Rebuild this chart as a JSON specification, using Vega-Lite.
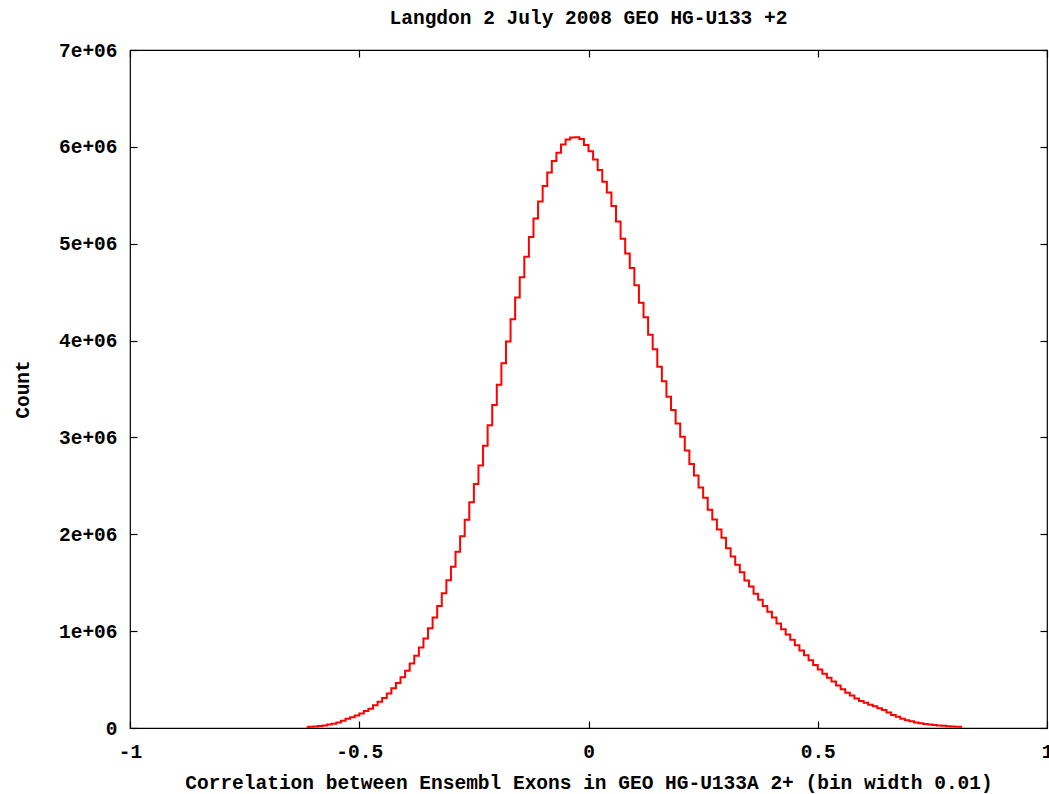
{
  "$schema": "https://vega.github.io/schema/vega-lite/v6.json",
  "width": 917,
  "height": 678,
  "autosize": {"type": "none"},
  "padding": {"left": 130, "top": 50, "right": 2, "bottom": 66},
  "background": "#ffffff",
  "title": {
    "text": "Langdon 2 July 2008 GEO HG-U133 +2",
    "font": "Liberation Mono",
    "fontSize": 19.5,
    "fontWeight": "bold",
    "color": "#000000",
    "anchor": "middle",
    "frame": "group",
    "baseline": "alphabetic",
    "offset": -3
  },
  "config": {
    "view": {"stroke": "#000000", "strokeWidth": 1.2},
    "axis": {
      "labelFont": "Liberation Mono",
      "labelFontSize": 19.5,
      "labelFontWeight": "bold",
      "labelColor": "#000000",
      "labelFlush": false,
      "titleFont": "Liberation Mono",
      "titleFontSize": 19.5,
      "titleFontWeight": "bold",
      "titleColor": "#000000",
      "domain": false,
      "grid": false,
      "tickColor": "#000000",
      "tickWidth": 1.2,
      "tickSize": -7
    }
  },
  "data": {
    "values": [
      {"x": -0.615, "count": 8000},
      {"x": -0.605, "count": 12000},
      {"x": -0.595, "count": 16000},
      {"x": -0.585, "count": 21000},
      {"x": -0.575, "count": 27000},
      {"x": -0.565, "count": 35000},
      {"x": -0.555, "count": 45000},
      {"x": -0.545, "count": 58000},
      {"x": -0.535, "count": 75000},
      {"x": -0.525, "count": 95000},
      {"x": -0.515, "count": 110000},
      {"x": -0.505, "count": 130000},
      {"x": -0.495, "count": 150000},
      {"x": -0.485, "count": 175000},
      {"x": -0.475, "count": 200000},
      {"x": -0.465, "count": 235000},
      {"x": -0.455, "count": 270000},
      {"x": -0.445, "count": 310000},
      {"x": -0.435, "count": 355000},
      {"x": -0.425, "count": 410000},
      {"x": -0.415, "count": 465000},
      {"x": -0.405, "count": 525000},
      {"x": -0.395, "count": 590000},
      {"x": -0.385, "count": 665000},
      {"x": -0.375, "count": 745000},
      {"x": -0.365, "count": 830000},
      {"x": -0.355, "count": 925000},
      {"x": -0.345, "count": 1030000},
      {"x": -0.335, "count": 1140000},
      {"x": -0.325, "count": 1260000},
      {"x": -0.315, "count": 1390000},
      {"x": -0.305, "count": 1525000},
      {"x": -0.295, "count": 1665000},
      {"x": -0.285, "count": 1820000},
      {"x": -0.275, "count": 1980000},
      {"x": -0.265, "count": 2150000},
      {"x": -0.255, "count": 2330000},
      {"x": -0.245, "count": 2520000},
      {"x": -0.235, "count": 2710000},
      {"x": -0.225, "count": 2915000},
      {"x": -0.215, "count": 3125000},
      {"x": -0.205, "count": 3335000},
      {"x": -0.195, "count": 3545000},
      {"x": -0.185, "count": 3765000},
      {"x": -0.175, "count": 3990000},
      {"x": -0.165, "count": 4220000},
      {"x": -0.155, "count": 4445000},
      {"x": -0.145, "count": 4655000},
      {"x": -0.135, "count": 4865000},
      {"x": -0.125, "count": 5070000},
      {"x": -0.115, "count": 5260000},
      {"x": -0.105, "count": 5435000},
      {"x": -0.095, "count": 5595000},
      {"x": -0.085, "count": 5735000},
      {"x": -0.075, "count": 5855000},
      {"x": -0.065, "count": 5940000},
      {"x": -0.055, "count": 6025000},
      {"x": -0.045, "count": 6077000},
      {"x": -0.035, "count": 6097000},
      {"x": -0.025, "count": 6100000},
      {"x": -0.015, "count": 6080000},
      {"x": -0.005, "count": 6020000},
      {"x": 0.005, "count": 5955000},
      {"x": 0.015, "count": 5870000},
      {"x": 0.025, "count": 5760000},
      {"x": 0.035, "count": 5640000},
      {"x": 0.045, "count": 5530000},
      {"x": 0.055, "count": 5390000},
      {"x": 0.065, "count": 5230000},
      {"x": 0.075, "count": 5050000},
      {"x": 0.085, "count": 4900000},
      {"x": 0.095, "count": 4750000},
      {"x": 0.105, "count": 4570000},
      {"x": 0.115, "count": 4390000},
      {"x": 0.125, "count": 4240000},
      {"x": 0.135, "count": 4060000},
      {"x": 0.145, "count": 3910000},
      {"x": 0.155, "count": 3730000},
      {"x": 0.165, "count": 3580000},
      {"x": 0.175, "count": 3420000},
      {"x": 0.185, "count": 3284000},
      {"x": 0.195, "count": 3143000},
      {"x": 0.205, "count": 3006000},
      {"x": 0.215, "count": 2865000},
      {"x": 0.225, "count": 2725000},
      {"x": 0.235, "count": 2608000},
      {"x": 0.245, "count": 2484000},
      {"x": 0.255, "count": 2378000},
      {"x": 0.265, "count": 2254000},
      {"x": 0.275, "count": 2152000},
      {"x": 0.285, "count": 2049000},
      {"x": 0.295, "count": 1963000},
      {"x": 0.305, "count": 1856000},
      {"x": 0.315, "count": 1771000},
      {"x": 0.325, "count": 1685000},
      {"x": 0.335, "count": 1609000},
      {"x": 0.345, "count": 1524000},
      {"x": 0.355, "count": 1462000},
      {"x": 0.365, "count": 1387000},
      {"x": 0.375, "count": 1325000},
      {"x": 0.385, "count": 1260000},
      {"x": 0.395, "count": 1200000},
      {"x": 0.405, "count": 1140000},
      {"x": 0.415, "count": 1080000},
      {"x": 0.425, "count": 1020000},
      {"x": 0.435, "count": 965000},
      {"x": 0.445, "count": 910000},
      {"x": 0.455, "count": 855000},
      {"x": 0.465, "count": 800000},
      {"x": 0.475, "count": 750000},
      {"x": 0.485, "count": 700000},
      {"x": 0.495, "count": 650000},
      {"x": 0.505, "count": 605000},
      {"x": 0.515, "count": 560000},
      {"x": 0.525, "count": 520000},
      {"x": 0.535, "count": 480000},
      {"x": 0.545, "count": 440000},
      {"x": 0.555, "count": 400000},
      {"x": 0.565, "count": 365000},
      {"x": 0.575, "count": 335000},
      {"x": 0.585, "count": 305000},
      {"x": 0.595, "count": 280000},
      {"x": 0.605, "count": 260000},
      {"x": 0.615, "count": 240000},
      {"x": 0.625, "count": 225000},
      {"x": 0.635, "count": 205000},
      {"x": 0.645, "count": 185000},
      {"x": 0.655, "count": 160000},
      {"x": 0.665, "count": 135000},
      {"x": 0.675, "count": 115000},
      {"x": 0.685, "count": 95000},
      {"x": 0.695, "count": 80000},
      {"x": 0.705, "count": 70000},
      {"x": 0.715, "count": 58000},
      {"x": 0.725, "count": 50000},
      {"x": 0.735, "count": 42000},
      {"x": 0.745, "count": 37000},
      {"x": 0.755, "count": 32000},
      {"x": 0.765, "count": 26000},
      {"x": 0.775, "count": 22000},
      {"x": 0.785, "count": 19000},
      {"x": 0.795, "count": 16000},
      {"x": 0.805, "count": 14000},
      {"x": 0.815, "count": 12000}
    ]
  },
  "layer": [
    {
      "mark": {"type": "line", "interpolate": "step", "color": "#ff0000", "strokeWidth": 2, "clip": true},
      "encoding": {
        "x": {
          "field": "x",
          "type": "quantitative",
          "scale": {"domain": [-1, 1], "nice": false, "zero": false},
          "axis": {
            "orient": "bottom",
            "values": [-1, -0.5, 0, 0.5, 1],
            "labelExpr": "'' + datum.value",
            "labelPadding": 21,
            "title": "Correlation between Ensembl Exons in GEO HG-U133A 2+ (bin width 0.01)",
            "titlePadding": 13
          }
        },
        "y": {
          "field": "count",
          "type": "quantitative",
          "scale": {"domain": [0, 7000000], "nice": false},
          "axis": {
            "orient": "left",
            "values": [0, 1000000, 2000000, 3000000, 4000000, 5000000, 6000000, 7000000],
            "labelExpr": "datum.value == 0 ? '0' : (datum.value / 1000000) + 'e+06'",
            "labelPadding": 20,
            "title": "Count",
            "titlePadding": 26
          }
        }
      }
    },
    {
      "mark": {"type": "line", "interpolate": "step", "opacity": 0},
      "encoding": {
        "x": {
          "field": "x",
          "type": "quantitative",
          "axis": {"orient": "top", "values": [-1, -0.5, 0, 0.5, 1], "labels": false, "title": null}
        },
        "y": {
          "field": "count",
          "type": "quantitative",
          "axis": {"orient": "right", "values": [0, 1000000, 2000000, 3000000, 4000000, 5000000, 6000000, 7000000], "labels": false, "title": null}
        }
      }
    }
  ],
  "resolve": {"axis": {"x": "independent", "y": "independent"}}
}
